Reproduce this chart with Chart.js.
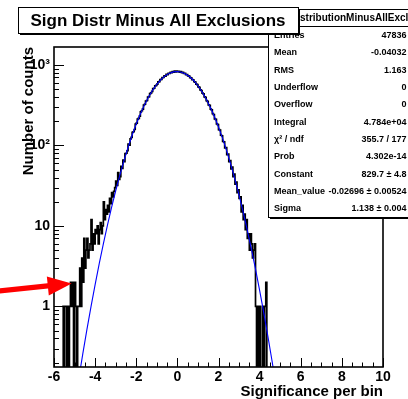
<!DOCTYPE html>
<html><head><meta charset="utf-8">
<script src="https://cdn.jsdelivr.net/npm/chart.js@4.4.1/dist/chart.umd.min.js"></script>
<style>html,body{margin:0;padding:0;background:#fff;overflow:hidden}canvas{display:block}</style>
</head><body>
<canvas id="c" width="408" height="399" style="width:408px;height:399px"></canvas>
<script>
// ---------- data ----------
const chartTitle = 'Sign Distr Minus All Exclusions';
const xAxisTitle = 'Significance per bin';
const yAxisTitle = 'Number of counts';

const binLowEdge = -5.6;
const binWidth = 0.05;
const counts = [
  1,0,1,1,0,1,0,1,2,1,
  2,0,2,1,0,1,1,3,1,4,
  2,7,3,5,7,4,5,6,12,5,
  8,6,9,8,10,6,9,11,8,10,
  20,12,16,14,18,15,22,19,26,23,
  27,30,36,32,46,38,
  41,55,52,66,63,79,80,86,104,101,
  121,126,146,148,158,184,189,213,217,231,
  262,270,283,318,325,356,362,398,404,441,
  450,470,507,514,551,558,579,617,622,657,
  661,695,699,731,727,762,759,789,784,812,
  803,826,815,838,821,842,824,833,816,825,
  801,808,784,788,759,761,730,728,697,691,
  659,655,619,612,578,570,533,527,490,482,
  446,438,402,395,361,353,320,314,283,277,
  248,242,214,211,185,182,157,155,134,132,
  112,111,93,94,77,78,63,65,51,54,
  41,44,33,35,26,28,
  22,23,15,18,12,14,9,12,7,8,
  5,8,6,4,5,6,1,0,1,0,
  1,0,0,1,0,1,2,0
];

const fitX = [-4.8,-4.6,-4.4,-4.2,-4.0,-3.8,-3.6,-3.4,-3.2,-3.0,-2.8,-2.6,-2.4,-2.2,-2.0,-1.8,-1.6,-1.4,-1.2,-1.0,-0.8,-0.6,-0.4,-0.2,0.0,0.2,0.4,0.6,0.8,1.0,1.2,1.4,1.6,1.8,2.0,2.2,2.4,2.6,2.8,3.0,3.2,3.4,3.6,3.8,4.0,4.2,4.4,4.6,4.8];
const fitY = [0.125,0.258,0.516,0.998,1.872,3.41,6.00,10.26,17.02,27.34,42.61,64.39,94.3,134.0,184.5,246.5,319.2,400.7,487.8,575.6,658.8,730.9,786.3,820.2,829.5,813.4,773.3,712.9,637.1,552.2,464.0,378.0,298.6,228.7,169.8,122.3,85.4,57.8,37.9,24.13,14.89,8.90,5.16,2.906,1.585,0.837,0.429,0.213,0.103];

const xTickValues = [-6,-4,-2,0,2,4,6,8,10];
const xTickLabels = ['-6','-4','-2','0','2','4','6','8','10'];
const yTickValues = [1,10,100,1000];
const yTickLabels = ['1','10','10\u00B2','10\u00B3'];

const statsHeader = 'stributionMinusAllExcl';
const statsLabels = ['Entries','Mean','RMS','Underflow','Overflow','Integral','\u03C7\u00B2 / ndf','Prob','Constant','Mean_value','Sigma'];
const statsValues = ['47836','-0.04032','1.163','0','0','4.784e+04','355.7 / 177','4.302e-14','829.7 \u00B1 4.8','-0.02696 \u00B1 0.00524','1.138 \u00B1 0.004'];

const arrowTail = {x: -8.65, y: 1.56};
const arrowTip = {x: -5.14, y: 1.93};

// ---------- build ----------
const FAM = '"Liberation Sans", Arial, Helvetica, sans-serif';
const zeroLevel = 0.01;
const histPoints = [];
counts.forEach((c, i) => {
  const lo = binLowEdge + i * binWidth, hi = lo + binWidth;
  const v = c > 0 ? c : zeroLevel;
  histPoints.push({x: lo, y: v}, {x: hi, y: v});
});
const fitPoints = fitX.map((x, i) => ({x, y: fitY[i]}));

const yMinor = [];
[0.1, 1, 10, 100].forEach(d => { for (let m = 2; m <= 9; m++) yMinor.push(d * m); });
const xMinor = [];
for (let v = -6; v <= 10.001; v += 0.5) xMinor.push(v);

const overlay = {
  id: 'overlay',
  afterDatasetsDraw(chart) {
    const ctx = chart.ctx, ca = chart.chartArea, xa = chart.scales.x, ya = chart.scales.y;
    ctx.save();
    ctx.strokeStyle = '#000';
    ctx.lineWidth = 1;
    ctx.beginPath();
    yMinor.forEach(v => {
      if (v < ya.min || v > ya.max) return;
      const p = Math.round(ya.getPixelForValue(v)) + 0.5;
      ctx.moveTo(ca.left, p); ctx.lineTo(ca.left + 5, p);
    });
    yTickValues.forEach(v => {
      const p = Math.round(ya.getPixelForValue(v)) + 0.5;
      ctx.moveTo(ca.left, p); ctx.lineTo(ca.left + 10, p);
    });
    xMinor.forEach(v => {
      const p = Math.round(xa.getPixelForValue(v)) + 0.5;
      ctx.moveTo(p, ca.bottom); ctx.lineTo(p, ca.bottom - 4.5);
    });
    xTickValues.forEach(v => {
      const p = Math.round(xa.getPixelForValue(v)) + 0.5;
      ctx.moveTo(p, ca.bottom); ctx.lineTo(p, ca.bottom - 9);
    });
    ctx.stroke();
    ctx.lineWidth = 1.6;
    ctx.strokeRect(ca.left, ca.top, ca.right - ca.left, ca.bottom - ca.top);
    ctx.restore();
  },
  afterDraw(chart) {
    const ctx = chart.ctx, ca = chart.chartArea, xa = chart.scales.x, ya = chart.scales.y;
    ctx.save();
    ctx.fillStyle = '#000';
    // axis titles
    ctx.font = 'bold 15px ' + FAM;
    ctx.textAlign = 'right';
    ctx.textBaseline = 'alphabetic';
    ctx.fillText(xAxisTitle, ca.right, 396);
    ctx.save();
    ctx.translate(33, ca.top);
    ctx.rotate(-Math.PI / 2);
    ctx.textAlign = 'right';
    ctx.fillText(yAxisTitle, 0, 0);
    ctx.restore();

    // stats box
    const sx = 268, sy = 9, sw = 150, sh = 208;
    const rowH = sh / 12;
    ctx.fillStyle = '#000';
    ctx.fillRect(sx + 2, sy + sh, sw, 2);
    ctx.fillStyle = '#fff';
    ctx.fillRect(sx, sy, sw, sh);
    ctx.strokeStyle = '#000';
    ctx.lineWidth = 1;
    ctx.strokeRect(sx + 0.5, sy + 0.5, sw, sh);
    ctx.beginPath();
    ctx.moveTo(sx, Math.round(sy + rowH) + 0.5); ctx.lineTo(sx + sw, Math.round(sy + rowH) + 0.5);
    ctx.stroke();
    ctx.fillStyle = '#000';
    ctx.textBaseline = 'middle';
    ctx.font = 'bold 10px ' + FAM;
    ctx.textAlign = 'left';
    ctx.fillText(statsHeader, 300, sy + rowH * 0.5 + 0.5);
    ctx.font = 'bold 9px ' + FAM;
    statsLabels.forEach((lab, i) => {
      const yy = sy + rowH * (i + 1.5) + 0.5;
      ctx.textAlign = 'left';
      ctx.fillText(lab, 274, yy);
      ctx.textAlign = 'right';
      ctx.fillText(statsValues[i], 406.5, yy);
    });

    // title box
    const tx = 18, ty = 7, tw = 280, th = 26;
    ctx.fillStyle = '#000';
    ctx.fillRect(tx + 2, ty + th, tw, 2);
    ctx.fillRect(tx + tw, ty + 2, 2, th);
    ctx.fillStyle = '#fff';
    ctx.fillRect(tx, ty, tw, th);
    ctx.strokeRect(tx + 0.5, ty + 0.5, tw, th);
    ctx.fillStyle = '#000';
    ctx.font = 'bold 17px ' + FAM;
    ctx.textAlign = 'center';
    ctx.textBaseline = 'middle';
    ctx.fillText(chartTitle, tx + tw / 2, ty + th / 2 + 1);

    // red arrow
    const p0 = {x: xa.getPixelForValue(arrowTail.x), y: ya.getPixelForValue(arrowTail.y)};
    const p1 = {x: xa.getPixelForValue(arrowTip.x), y: ya.getPixelForValue(arrowTip.y)};
    const dx = p1.x - p0.x, dy = p1.y - p0.y, L = Math.hypot(dx, dy);
    const ux = dx / L, uy = dy / L, nx = -uy, ny = ux;
    const headLen = 24, headHalf = 9.5, shaftHalf = 2.6;
    const bx = p1.x - ux * headLen, by = p1.y - uy * headLen;
    ctx.fillStyle = '#ff0000';
    ctx.beginPath();
    ctx.moveTo(p0.x + nx * shaftHalf, p0.y + ny * shaftHalf);
    ctx.lineTo(bx + nx * shaftHalf, by + ny * shaftHalf);
    ctx.lineTo(bx + nx * headHalf, by + ny * headHalf);
    ctx.lineTo(p1.x, p1.y);
    ctx.lineTo(bx - nx * headHalf, by - ny * headHalf);
    ctx.lineTo(bx - nx * shaftHalf, by - ny * shaftHalf);
    ctx.lineTo(p0.x - nx * shaftHalf, p0.y - ny * shaftHalf);
    ctx.closePath();
    ctx.fill();
    ctx.restore();
  }
};

new Chart(document.getElementById('c'), {
  type: 'line',
  data: {
    datasets: [
      {label: 'fit', data: fitPoints, borderColor: '#0000ff', borderWidth: 1.1, pointRadius: 0, tension: 0, fill: false, order: 1},
      {label: 'hist', data: histPoints, borderColor: '#000', borderWidth: 1.7, pointRadius: 0, tension: 0, fill: false, order: 2}
    ]
  },
  options: {
    responsive: false,
    animation: false,
    devicePixelRatio: 1,
    layout: {padding: {left: 0, right: 25, top: 47, bottom: 0}},
    plugins: {legend: {display: false}, tooltip: {enabled: false}, title: {display: false}},
    scales: {
      x: {
        type: 'linear', min: -6, max: 10,
        afterFit(s) { s.height = 32; },
        afterBuildTicks(s) { s.ticks = xTickValues.map(v => ({value: v})); },
        ticks: {
          callback: (v) => { const i = xTickValues.indexOf(v); return i >= 0 ? xTickLabels[i] : ''; },
          font: {family: FAM, size: 14, weight: 'bold'}, color: '#000', padding: 2,
          maxRotation: 0, autoSkip: false
        },
        grid: {display: false, drawTicks: false},
        border: {display: false}
      },
      y: {
        type: 'logarithmic', min: 0.177, max: 1672,
        afterFit(s) { s.width = 54; },
        afterBuildTicks(s) { s.ticks = yTickValues.map(v => ({value: v, major: true})); },
        ticks: {
          callback: (v) => { const i = yTickValues.indexOf(v); return i >= 0 ? yTickLabels[i] : ''; },
          font: {family: FAM, size: 14, weight: 'bold'}, color: '#000', padding: 4,
          autoSkip: false
        },
        grid: {display: false, drawTicks: false},
        border: {display: false}
      }
    }
  },
  plugins: [overlay]
});
</script>
</body></html>
